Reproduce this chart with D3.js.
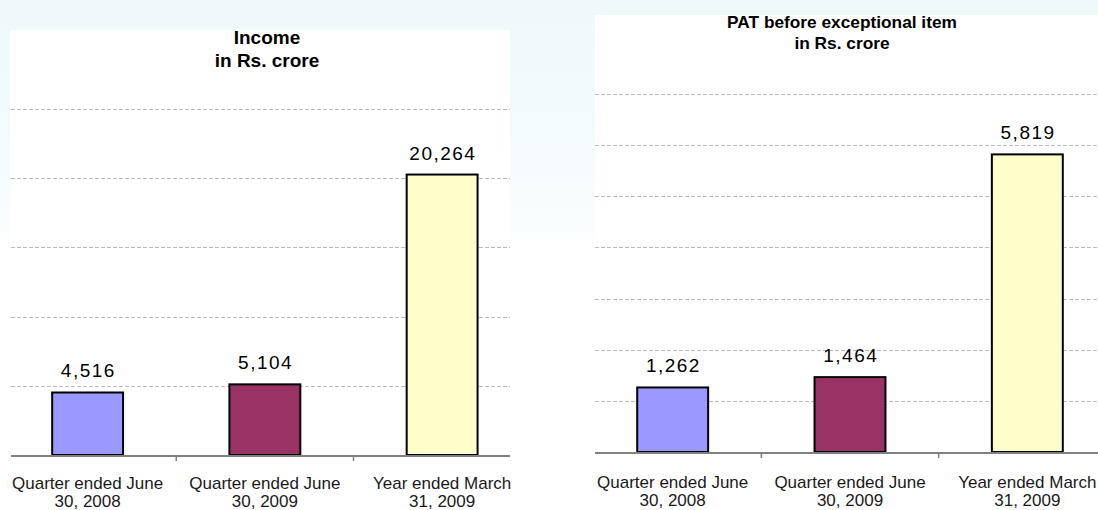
<!DOCTYPE html>
<html>
<head>
<meta charset="utf-8">
<script src="https://cdn.jsdelivr.net/npm/d3@7"></script>
<style>
  html, body { margin: 0; padding: 0; background: #fff; }
  svg { display: block; font-family: Arial, "Liberation Sans", sans-serif; }
</style>
</head>
<body>
<div id="chart"></div>
<script>
// data
const categories = [
  ["Quarter ended  June", "30, 2008"],
  ["Quarter ended  June", "30, 2009"],
  ["Year ended March", "31, 2009"]
]
const barColors = ["#9999ff", "#993366", "#ffffcc"]

const incomeTitle = ["Income", "in Rs. crore"]
const incomeValues = [4516, 5104, 20264]
const incomeTicks = [0, 5000, 10000, 15000, 20000, 25000]

const patTitle = ["PAT before exceptional item", "in Rs. crore"]
const patValues = [1262, 1464, 5819]
const patTicks = [0, 1000, 2000, 3000, 4000, 5000, 6000, 7000]

const W = 1098
const H = 510

const svg = d3.select("#chart")
  .append("svg")
  .attr("width", W)
  .attr("height", H)

// slide background: pale blue fading to white
const defs = svg.append("defs")
const grad = defs.append("linearGradient")
  .attr("id", "bg")
  .attr("x1", 0).attr("y1", 0).attr("x2", 0).attr("y2", 1)
grad.append("stop").attr("offset", "0%").attr("stop-color", "#eff9fc")
grad.append("stop").attr("offset", "18%").attr("stop-color", "#f1fafd")
grad.append("stop").attr("offset", "45%").attr("stop-color", "#fafdfe")
grad.append("stop").attr("offset", "48%").attr("stop-color", "#ffffff")
grad.append("stop").attr("offset", "100%").attr("stop-color", "#ffffff")

svg.append("rect")
  .attr("width", W).attr("height", H)
  .attr("fill", "url(#bg)")

const fmt = d3.format(",")

const drawChart = (opts) => {
  const g = svg.append("g")

  // white panel
  g.append("rect")
    .attr("x", opts.panel[0]).attr("y", opts.panel[1])
    .attr("width", opts.panel[2]).attr("height", H - opts.panel[1])
    .attr("fill", "#fff")

  const x = d3.scaleBand()
    .domain(d3.range(categories.length))
    .range(opts.xRange)
    .paddingInner(0.6)
    .paddingOuter(0.3)

  const y = d3.scaleLinear()
    .domain(d3.extent(opts.ticks))
    .range(opts.yRange)

  // gridlines
  g.append("g").selectAll("line")
    .data(opts.ticks.slice(1))
    .enter().append("line")
    .attr("x1", opts.gridX[0]).attr("x2", opts.gridX[1])
    .attr("y1", d => Math.round(y(d)) + 0.5)
    .attr("y2", d => Math.round(y(d)) + 0.5)
    .attr("stroke", "#bdbdbd")
    .attr("stroke-width", 1)
    .attr("stroke-dasharray", "4,2")

  // bars
  g.append("g").selectAll("rect")
    .data(opts.values)
    .enter().append("rect")
    .attr("x", (d, i) => x(i))
    .attr("y", d => y(d))
    .attr("width", x.bandwidth())
    .attr("height", d => y(0) - y(d))
    .attr("fill", (d, i) => barColors[i])
    .attr("stroke", "#000")
    .attr("stroke-width", 2)

  // category axis
  g.append("line")
    .attr("x1", opts.gridX[0]).attr("x2", opts.gridX[1])
    .attr("y1", y(0) + 1).attr("y2", y(0) + 1)
    .attr("stroke", "#808080")
    .attr("stroke-width", 2)

  g.append("g").selectAll("line")
    .data(d3.range(1, categories.length))
    .enter().append("line")
    .attr("x1", i => x(i) - x.step() * x.paddingInner() / 2)
    .attr("x2", i => x(i) - x.step() * x.paddingInner() / 2)
    .attr("y1", y(0) + 1).attr("y2", y(0) + 6)
    .attr("stroke", "#808080")
    .attr("stroke-width", 1.5)

  // value labels
  g.append("g").selectAll("text")
    .data(opts.values)
    .enter().append("text")
    .attr("x", (d, i) => x(i) + x.bandwidth() / 2 + 0.75)
    .attr("y", d => y(d) - 15)
    .attr("text-anchor", "middle")
    .style("font-size", "19px")
    .style("letter-spacing", "1.5px")
    .style("fill", "#000")
    .text(d => fmt(d))

  // category labels
  const cat = g.append("g").selectAll("text")
    .data(categories)
    .enter().append("text")
    .attr("text-anchor", "middle")
    .style("font-size", "17px")
    .style("fill", "#1a1a1a")
  cat.each(function(lines, i) {
    d3.select(this).selectAll("tspan")
      .data(lines)
      .enter().append("tspan")
      .attr("x", x(i) + x.bandwidth() / 2)
      .attr("y", (l, j) => y(0) + opts.catDy + j * 17.5)
      .text(l => l)
  })

  // title
  g.append("g").selectAll("text")
    .data(opts.title)
    .enter().append("text")
    .attr("x", opts.titleX)
    .attr("y", (d, j) => opts.titleY + j * opts.titleGap)
    .attr("text-anchor", "middle")
    .style("font-size", opts.titleSize)
    .style("font-weight", "bold")
    .style("fill", "#000")
    .text(d => d)
}

drawChart({
  panel: [10, 30, 500],
  xRange: [-1, 530.75],
  yRange: [455, 109],
  gridX: [11, 510],
  ticks: incomeTicks,
  values: incomeValues,
  catDy: 34,
  title: incomeTitle,
  titleX: 267,
  titleY: 44,
  titleGap: 23,
  titleSize: "19px"
})

drawChart({
  panel: [595, 15, 503],
  xRange: [584, 1116],
  yRange: [452, 94],
  gridX: [595, 1098],
  ticks: patTicks,
  values: patValues,
  catDy: 36,
  title: patTitle,
  titleX: 842,
  titleY: 28,
  titleGap: 20.5,
  titleSize: "17.3px"
})
</script>
</body>
</html>
